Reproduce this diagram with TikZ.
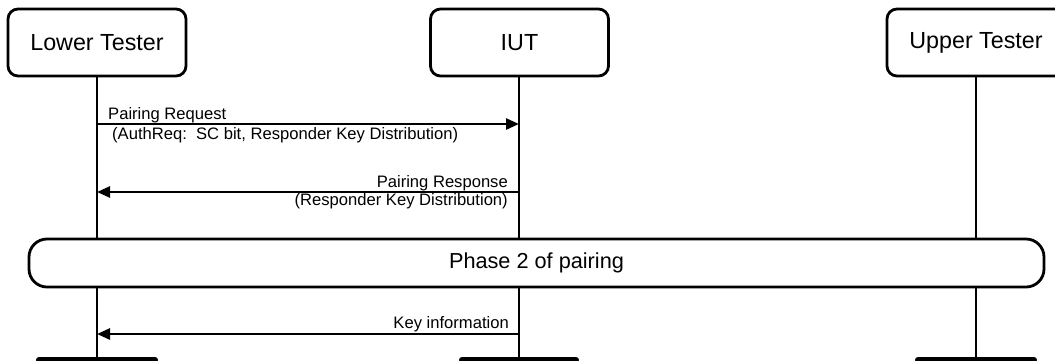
\documentclass[tikz,border=0pt]{standalone}
\usepackage{fontspec}
\setmainfont{Liberation Sans}
\usetikzlibrary{arrows.meta}
\begin{document}
\begin{tikzpicture}[x=1pt,y=-1pt,
  headbox/.style={draw,line width=2.8pt,rounded corners=10pt,minimum width=178pt,minimum height=67pt,inner sep=0pt,font=\fontsize{23.3}{28}\selectfont},
  lifeline/.style={line width=2.6pt},
  msg/.style={line width=2.6pt,-{Triangle[length=13pt,width=11pt]}},
  lbl/.style={inner sep=0pt,font=\fontsize{16.6}{20}\selectfont},
  phasebox/.style={draw,fill=white,line width=2.8pt,rounded corners=18pt,minimum width=1015pt,minimum height=48pt,inner sep=0pt,font=\fontsize{21.7}{26}\selectfont},
  endbar/.style={line width=6pt,line cap=round}]
\useasboundingbox (0,0) rectangle (1055,360);
\clip (0,0) rectangle (1055,360);
% heads
\node[headbox] (lt) at (97,42.5) {Lower Tester};
\node[headbox] (iut) at (519.5,42.5) {IUT};
\node[headbox] (ut) at (976,42.5) {Upper Tester};
% lifeline ends
\coordinate (ltE) at (97,360);
\coordinate (iutE) at (519,360);
\coordinate (utE) at (976,360);
\draw[lifeline] (lt.south -| ltE) -- (ltE);
\draw[lifeline] (iut.south -| iutE) -- (iutE);
\draw[lifeline] (ut.south -| utE) -- (utE);
% messages
\coordinate (m1a) at (97,124);
\coordinate (m1b) at (519,124);
\draw[msg] (m1a) -- (m1b);
\node[lbl,anchor=base west] (m1t) at (108,119) {Pairing Request};
\node[lbl,anchor=base west] (m1s) at (112,139) {(AuthReq:\ \ SC bit, Responder Key Distribution)};
\coordinate (m2a) at (519,192);
\coordinate (m2b) at (97,192);
\draw[msg] (m2a) -- (m2b);
\node[lbl,anchor=base east] (m2t) at (508,187) {Pairing Response};
\node[lbl,anchor=base east] (m2s) at (508,205) {(Responder Key Distribution)};
% phase
\node[phasebox] (ph) at (536.5,263) {Phase 2 of pairing};
% key info
\coordinate (m3a) at (519,334);
\coordinate (m3b) at (97,334);
\draw[msg] (m3a) -- (m3b);
\node[lbl,anchor=base east] (m3t) at (509,328) {Key information};
% end bars
\draw[endbar] ([xshift=-58pt]ltE) -- ([xshift=58pt]ltE);
\draw[endbar] ([xshift=-57pt]iutE) -- ([xshift=57pt]iutE);
\draw[endbar] ([xshift=-58pt]utE) -- ([xshift=58pt]utE);
\end{tikzpicture}
\end{document}
